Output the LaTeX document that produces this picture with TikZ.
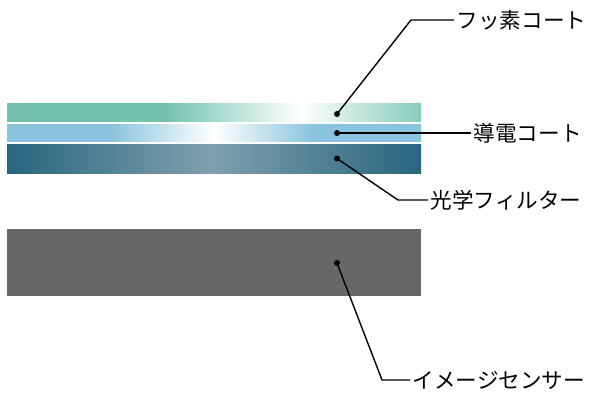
\documentclass[tikz,border=0pt]{standalone}
\usepackage{fontspec}
\setmainfont{Noto Sans CJK JP}
\definecolor{fluorgreen}{RGB}{114,194,173}
\definecolor{fluorgreenlt}{RGB}{134,204,185}
\definecolor{condblue}{RGB}{138,195,222}
\definecolor{filtdark}{RGB}{40,101,127}
\definecolor{filtlight}{RGB}{128,160,172}
\definecolor{sensorgray}{RGB}{103,103,103}
\pgfdeclarehorizontalshading{fluorshade}{100bp}{color(0bp)=(fluorgreen); color(25bp)=(fluorgreen); color(44bp)=(fluorgreen); color(60.5bp)=(white); color(75bp)=(fluorgreenlt); color(100bp)=(fluorgreenlt)}
\pgfdeclarehorizontalshading{condshade}{100bp}{color(0bp)=(condblue); color(25bp)=(condblue); color(37.5bp)=(condblue); color(50bp)=(white); color(62bp)=(condblue); color(75bp)=(condblue); color(100bp)=(condblue)}
\pgfdeclarehorizontalshading{filtshade}{100bp}{color(0bp)=(filtdark); color(25bp)=(filtdark); color(49.5bp)=(filtlight); color(75bp)=(filtdark); color(100bp)=(filtdark)}
\begin{document}
\begin{tikzpicture}[x=1pt, y=-1pt,
	dot/.style={circle, fill=black, inner sep=0pt, minimum size=6pt},
	lead/.style={line width=1.4pt},
	lbl/.style={anchor=west, inner xsep=2.5pt, inner ysep=0pt, font=\fontsize{21.6}{22}\selectfont}]
	\useasboundingbox (0,0) rectangle (600,400);
	
	\shade[shading=fluorshade] (7,103) rectangle (421,121);
	\shade[shading=condshade] (7,124) rectangle (421,141);
	\shade[shading=filtshade] (7,144) rectangle (421,173);
	\fill[sensorgray] (7,229) rectangle (421,296);
	
	\foreach \n/\y in {fluor/114, cond/133, filt/158.5, sens/263}
	\node[dot] (d\n) at (337,\y) {};
	
	\coordinate (bfluor) at (411,20);
	\coordinate (bfilt) at (398,200);
	\coordinate (bsens) at (382,380);
	
	\node[lbl] (lfluor) at (454,20) {フッ素コート};
	\node[lbl] (lcond) at (471,133) {導電コート};
	\node[lbl] (lfilt) at (428,200) {光学フィルター};
	\node[lbl] (lsens) at (410,380) {イメージセンサー};
	
	\draw[lead] (dfluor.center) -- (bfluor) -- (lfluor.west);
	\draw[lead] (dcond.center) -- (lcond.west);
	\draw[lead] (dfilt.center) -- (bfilt) -- (lfilt.west);
	\draw[lead] (dsens.center) -- (bsens) -- (lsens.west);
\end{tikzpicture}
\end{document}
